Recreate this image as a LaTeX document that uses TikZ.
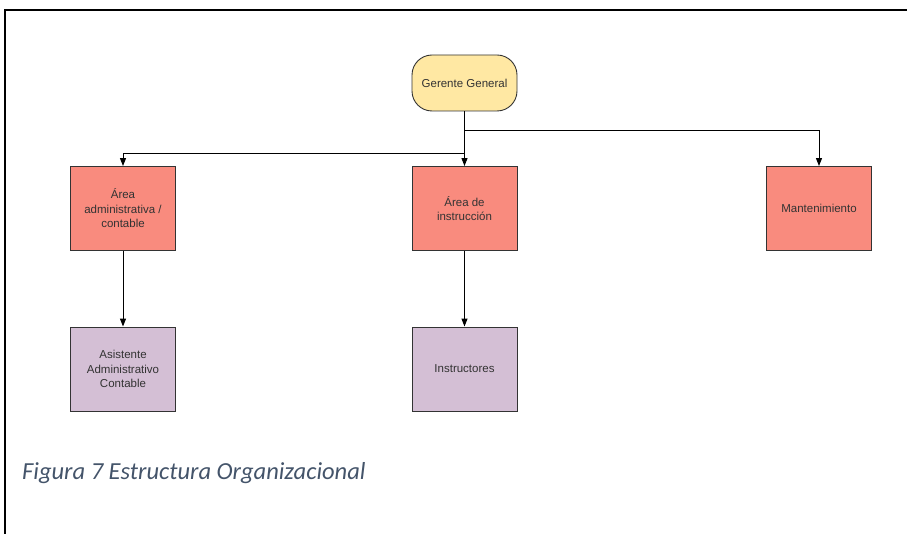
\documentclass[tikz,border=0pt]{standalone}
\usepackage{fontspec}
\setmainfont{Liberation Sans}
\newfontfamily\captionfont{Carlito}
\usetikzlibrary{arrows.meta}

\definecolor{gerentefill}{HTML}{FFE8A3}
\definecolor{areafill}{HTML}{F98B7E}
\definecolor{subfill}{HTML}{D4BFD5}
\definecolor{linegray}{HTML}{333333}
\definecolor{captioncol}{HTML}{44546A}

\begin{document}
\begin{tikzpicture}[x=1pt, y=-1pt,
  box/.style={rectangle, draw=linegray, line width=0.9pt, minimum width=105pt, minimum height=84pt, align=center, text=linegray, font=\fontsize{11.5}{14.5}\selectfont, inner sep=2pt},
  areabox/.style={box, fill=areafill},
  subbox/.style={box, fill=subfill},
  startbox/.style={box, fill=gerentefill, rounded corners=20pt, minimum height=56pt},
  conn/.style={black, line width=1pt, -{Triangle[length=8pt, width=6pt]}}]
  \useasboundingbox (0,0) rectangle (907,534);
  \draw[line width=2pt] (5,534) -- (5,10.5) -- (910,10.5);

    \node[startbox] (gg) at (464.5,83) {Gerente General};
    \node[areabox] (adm) at (123,208.5) {Área\\administrativa /\\contable};
    \node[areabox] (ins) at (464.5,208.5) {Área de\\instrucción};
    \node[areabox] (man) at (819,208.5) {Mantenimiento};
    \node[subbox] (asi) at (123,369) {Asistente\\Administrativo\\Contable};
    \node[subbox] (itr) at (464.5,369) {Instructores};

    \coordinate (split) at (gg.south |- 0,131);
    \draw[conn] (gg.south) -- (ins.north);
    \draw[conn] (split) -| (man.north);
    \draw[conn] (gg.south |- 0,154) -| (adm.north);
    \draw[conn] (adm) -- (asi);
    \draw[conn] (ins) -- (itr);

     \node[anchor=base west, inner sep=0pt, text=captioncol, font=\captionfont\itshape\fontsize{24.5}{28}\selectfont] (cap) at (22,479) {Figura 7 Estructura Organizacional};
\end{tikzpicture}
\end{document}
